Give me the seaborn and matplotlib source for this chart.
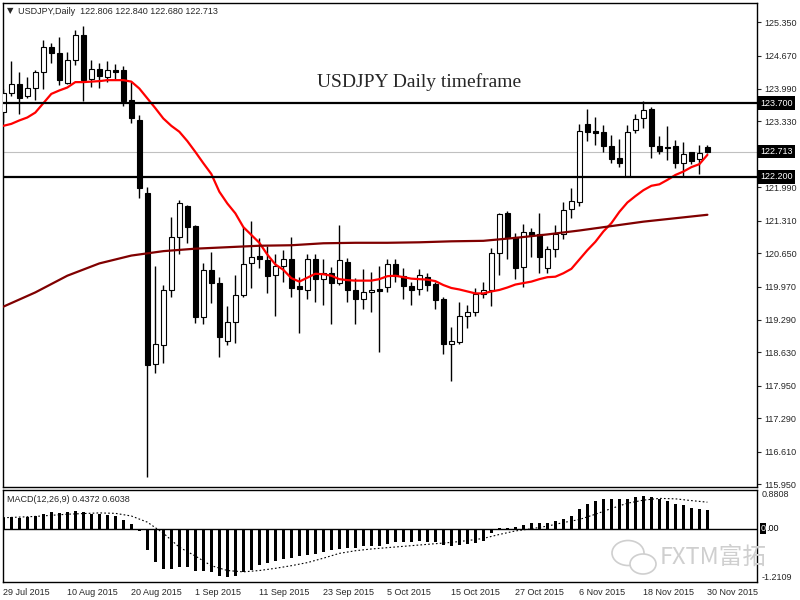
import numpy as np
import pandas as pd
import seaborn as sns
import matplotlib.pyplot as plt
from matplotlib.patches import Ellipse
from matplotlib.transforms import IdentityTransform

# daily bars 29 Jul 2015 - 30 Nov 2015
dates = pd.bdate_range('2015-07-29', '2015-11-30')

opens = [123.52, 123.90, 124.10, 123.85, 124.00, 124.34, 124.84, 124.72, 124.12, 124.59,
         125.09, 124.19, 124.39, 124.23, 124.38, 124.38, 123.76, 123.36, 121.87, 118.39,
         118.77, 119.90, 120.97, 121.61, 121.20, 119.34, 120.31, 120.04, 118.87, 119.24,
         119.79, 120.44, 120.59, 120.51, 120.20, 120.38, 120.54, 119.98, 119.89, 120.52,
         120.12, 120.24, 120.05, 120.46, 119.90, 119.71, 119.85, 119.92, 119.97, 120.42,
         120.18, 119.99, 119.91, 120.16, 120.02, 119.72, 118.80, 118.85, 119.36, 119.45,
         119.81, 119.89, 120.65, 121.47, 120.97, 120.36, 121.07, 121.03, 120.34, 120.73,
         121.03, 121.54, 121.70, 123.28, 123.13, 123.11, 122.83, 122.58, 122.22, 123.15,
         123.39, 123.58, 122.83, 122.80, 122.83, 122.49, 122.70, 122.56, 122.806]
highs = [123.98, 124.55, 124.34, 124.24, 124.38, 124.99, 124.93, 125.04, 124.75, 125.19,
         125.27, 124.59, 124.51, 124.55, 124.50, 124.46, 124.14, 123.47, 122.00, 120.39,
         120.00, 121.39, 121.73, 121.63, 121.22, 120.44, 120.68, 120.16, 119.57, 120.20,
         121.19, 121.30, 120.96, 120.80, 120.63, 120.71, 120.97, 120.17, 120.63, 120.63,
         120.52, 120.36, 121.22, 120.56, 120.14, 120.33, 120.26, 120.39, 120.53, 120.54,
         120.34, 120.07, 120.33, 120.24, 120.07, 119.76, 119.14, 119.65, 119.59, 119.93,
         120.07, 120.75, 121.46, 121.50, 121.05, 121.24, 121.17, 121.46, 120.80, 121.22,
         121.70, 121.97, 123.27, 123.58, 123.43, 123.26, 123.05, 122.97, 123.26, 123.48,
         123.74, 123.63, 123.03, 123.24, 122.95, 122.92, 122.71, 122.86, 122.840]
lows = [123.32, 123.85, 123.48, 123.80, 123.77, 123.99, 124.51, 124.07, 124.10, 124.48,
        123.75, 124.04, 124.00, 124.14, 124.17, 123.64, 123.30, 121.78, 116.10, 118.22,
        118.42, 119.76, 120.63, 120.85, 119.22, 119.21, 119.63, 118.53, 118.77, 118.83,
        119.75, 119.95, 120.34, 119.83, 119.38, 120.07, 119.76, 119.03, 119.71, 119.66,
        119.60, 119.21, 120.00, 119.66, 119.21, 119.51, 119.46, 118.64, 119.85, 120.07,
        119.72, 119.60, 119.80, 119.87, 119.51, 118.60, 118.05, 118.81, 119.12, 119.38,
        119.73, 119.58, 120.20, 120.54, 120.12, 119.97, 120.58, 120.25, 120.24, 120.58,
        120.94, 121.36, 121.60, 122.94, 122.85, 122.71, 122.48, 122.41, 122.20, 123.10,
        123.19, 122.59, 122.66, 122.54, 122.39, 122.22, 122.46, 122.27, 122.680]
closes = [123.90, 124.10, 123.81, 124.00, 124.34, 124.84, 124.72, 124.17, 124.59, 125.09,
          124.17, 124.39, 124.25, 124.38, 124.34, 123.75, 123.39, 121.98, 118.37, 118.80,
          119.90, 120.98, 121.66, 121.19, 119.34, 120.31, 120.04, 118.95, 119.24, 119.79,
          120.42, 120.58, 120.54, 120.19, 120.38, 120.52, 119.95, 119.91, 120.52, 120.12,
          120.24, 120.05, 120.51, 119.90, 119.71, 119.85, 119.89, 119.87, 120.42, 120.18,
          119.98, 119.90, 120.20, 120.00, 119.70, 118.80, 118.87, 119.36, 119.46, 119.81,
          119.89, 120.66, 121.44, 120.95, 120.35, 121.07, 121.02, 120.58, 120.73, 121.03,
          121.53, 121.71, 123.13, 123.12, 123.10, 122.82, 122.57, 122.49, 123.12, 123.37,
          123.57, 122.82, 122.73, 122.78, 122.49, 122.66, 122.53, 122.68, 122.713]

# red (fast) moving average, one value per bar
ma_fast = [123.24, 123.28, 123.35, 123.41, 123.51, 123.70, 123.89, 123.96, 124.02, 124.13,
           124.13, 124.14, 124.15, 124.17, 124.17, 124.17, 124.14, 124.00, 123.80, 123.60,
           123.39, 123.24, 123.12, 122.93, 122.71, 122.48, 122.26, 121.90, 121.66, 121.46,
           121.18, 121.02, 120.86, 120.62, 120.42, 120.31, 120.14, 120.07, 120.15, 120.23,
           120.22, 120.19, 120.12, 120.10, 120.09, 120.09, 120.09, 120.12, 120.18, 120.19,
           120.16, 120.13, 120.12, 120.11, 120.08, 120.00, 119.94, 119.91, 119.87, 119.83,
           119.83, 119.87, 119.90, 119.95, 120.01, 120.04, 120.07, 120.12, 120.16, 120.17,
           120.24, 120.33, 120.52, 120.71, 120.88, 121.09, 121.26, 121.49, 121.68, 121.81,
           121.93, 122.02, 122.05, 122.14, 122.24, 122.31, 122.40, 122.46, 122.65]

# dark red (slow) moving average, read every 4th bar
slow_idx = list(range(0, 89, 4))
ma_slow = [119.56, 119.85, 120.19, 120.44, 120.60, 120.69, 120.74, 120.77, 120.80, 120.81,
           120.85, 120.86, 120.86, 120.87, 120.89, 120.90, 120.96, 121.03, 121.11, 121.20,
           121.29, 121.36, 121.43]

macd = [0.24, 0.26, 0.24, 0.26, 0.28, 0.34, 0.37, 0.36, 0.37, 0.41,
        0.37, 0.34, 0.33, 0.31, 0.28, 0.20, 0.11, -0.05, -0.49, -0.76,
        -0.91, -0.92, -0.86, -0.86, -0.96, -0.96, -0.99, -1.08, -1.10, -1.08,
        -0.98, -0.93, -0.83, -0.78, -0.74, -0.68, -0.67, -0.63, -0.59, -0.57,
        -0.52, -0.49, -0.46, -0.44, -0.44, -0.40, -0.40, -0.40, -0.34, -0.31,
        -0.30, -0.30, -0.28, -0.30, -0.30, -0.36, -0.40, -0.37, -0.35, -0.32,
        -0.29, -0.10, 0.01, 0.02, 0.05, 0.09, 0.14, 0.14, 0.14, 0.18,
        0.23, 0.30, 0.45, 0.57, 0.64, 0.67, 0.67, 0.67, 0.68, 0.73,
        0.75, 0.72, 0.67, 0.64, 0.57, 0.53, 0.47, 0.45, 0.4372]

sig_idx = [0, 4, 8, 12, 14, 16, 18, 20, 22, 24, 26, 28, 30, 32, 34, 36, 38, 40, 42, 44, 46,
           48, 50, 52, 54, 56, 58, 60, 62, 64, 66, 68, 70, 72, 74, 76, 78, 80, 82, 84, 86, 88]
signal = [0.25, 0.28, 0.33, 0.36, 0.35, 0.29, 0.15, -0.10, -0.42, -0.62, -0.84, -0.95, -0.98,
          -0.95, -0.90, -0.84, -0.77, -0.67, -0.56, -0.50, -0.46, -0.43, -0.40, -0.37, -0.34,
          -0.31, -0.27, -0.22, -0.13, -0.05, 0.00, 0.06, 0.14, 0.21, 0.33, 0.46, 0.58, 0.65,
          0.69, 0.68, 0.64, 0.6038]

price_ticks = [125.35, 124.67, 123.99, 123.33, 122.65, 121.99, 121.31, 120.65, 119.97,
               119.29, 118.63, 117.95, 117.29, 116.61, 115.95]
levels = [123.70, 122.20]
last_price = 122.713

sns.set_style("white")
plt.rcParams['font.family'] = ['Liberation Sans', 'DejaVu Sans']
FS = 6.5

W, H = 800, 600
fig = plt.figure(figsize=(8, 6), dpi=100)


def box(l, t, r, b):
    return [l / W, 1 - b / H, (r - l) / W, (b - t) / H]


ax = fig.add_axes(box(2.5, 3, 757, 487))
ax2 = fig.add_axes(box(2.5, 490, 757, 582))

x = np.arange(len(closes))
o, h, l, c = map(np.array, (opens, highs, lows, closes))
up = c >= o

# candles
ax.axhline(last_price, color='#c0c0c0', lw=0.8, zorder=1)
ax.vlines(x, l, h, color='black', lw=1, zorder=2)
ax.bar(x[up], np.maximum(c - o, 0.01)[up], bottom=o[up], width=0.6,
       facecolor='white', edgecolor='black', lw=0.8, zorder=3)
ax.bar(x[~up], np.maximum(o - c, 0.01)[~up], bottom=c[~up], width=0.6,
       facecolor='black', edgecolor='black', lw=0.8, zorder=3)

sns.lineplot(x=x, y=ma_fast, color='#ff0000', lw=1.6, ax=ax, zorder=4)
sns.lineplot(x=slow_idx, y=ma_slow, color='#800000', lw=1.6, ax=ax, zorder=4)
for lv in levels:
    ax.axhline(lv, color='black', lw=1.6, zorder=5)

ax.set_xlim(-0.1, 94.2)
ax.set_ylim(115.89, 125.74)
ax.yaxis.tick_right()
ax.set_yticks(price_ticks)
# 122.650 sits under the current-price box, as in the terminal
ax.set_yticklabels(['' if abs(v - 122.65) < 1e-6 else f"{v:.3f}" for v in price_ticks])
ax.tick_params(axis='y', direction='out', length=3, width=0.8, labelsize=FS, pad=2)
ax.tick_params(axis='x', bottom=False, labelbottom=False)
ax.set_xlabel('')
ax.set_ylabel('')

for val in levels + [last_price]:
    ax.annotate(f"{val:.3f}", xy=(1, val), xycoords=('axes fraction', 'data'),
                xytext=(2.5, 0), textcoords='offset points', ha='left', va='center',
                color='white', fontsize=FS, annotation_clip=False, zorder=10,
                bbox=dict(boxstyle='square,pad=0.25', fc='black', ec='none'))

# MACD panel
sns.barplot(x=x, y=macd, native_scale=True, orient='x', width=0.45, color='black',
            saturation=1, errorbar=None, edgecolor='black', linewidth=0, ax=ax2)
sns.lineplot(x=sig_idx, y=signal, color='black', lw=0.8, linestyle=(0, (1.5, 2)), ax=ax2)
ax2.axhline(0, color='black', lw=1)
ax2.set_xlim(-0.1, 94.2)
ax2.set_ylim(-1.2109, 0.8808)
ax2.yaxis.tick_right()
ax2.set_yticks([0.8808, -1.2109])
ax2.set_yticklabels(['0.8808', '-1.2109'])
ax2.tick_params(axis='y', length=0, labelsize=FS, pad=3)
ylab = ax2.get_yticklabels()
ylab[0].set_va('top')
ylab[1].set_va('bottom')
ax2.annotate('0', xy=(1, 0), xycoords=('axes fraction', 'data'), xytext=(2.5, 0),
             textcoords='offset points', ha='left', va='center', color='white', fontsize=FS,
             annotation_clip=False, bbox=dict(boxstyle='square,pad=0.1', fc='black', ec='none'))
ax2.annotate('.00', xy=(1, 0), xycoords=('axes fraction', 'data'), xytext=(6.3, 0),
             textcoords='offset points', ha='left', va='center', color='black', fontsize=FS,
             annotation_clip=False)

tick_pos = x[::8]
ax2.set_xticks(tick_pos)
ax2.set_xticklabels([f"{dates[i].day} {dates[i]:%b %Y}" for i in tick_pos], ha='left')
ax2.tick_params(axis='x', direction='out', length=3, width=0.8, labelsize=FS, pad=1)
ax2.set_xlabel('')
ax2.set_ylabel('')

for a in (ax, ax2):
    for s in a.spines.values():
        s.set_color('black')
        s.set_linewidth(1)

# header texts
fig.text(10 / W, 1 - 11 / H, '▼', fontsize=6, ha='center', va='center', family='DejaVu Sans')
fig.text(18 / W, 1 - 11 / H, 'USDJPY,Daily  122.806 122.840 122.680 122.713',
         fontsize=FS, va='center')
fig.text(7 / W, 1 - 499 / H, 'MACD(12,26,9) 0.4372 0.6038', fontsize=FS, va='center')
fig.text(419 / W, 1 - 82 / H, 'USDJPY Daily timeframe', family='Liberation Serif',
         fontsize=14, ha='center', va='center')

# watermark
wm = '#cfcfcf'
fig.text(660 / W, 1 - 557 / H, 'FXTM富拓', fontsize=17, color=wm,
         family=['Noto Sans CJK SC', 'DejaVu Sans'], va='center')
fig.add_artist(Ellipse((628, H - 553), 32, 25, fill=False, ec=wm, lw=1.2,
                       transform=IdentityTransform()))
fig.add_artist(Ellipse((643, H - 564), 26, 20, fc='white', ec=wm, lw=1.2,
                       transform=IdentityTransform()))

fig.savefig('out.png', dpi=100)
